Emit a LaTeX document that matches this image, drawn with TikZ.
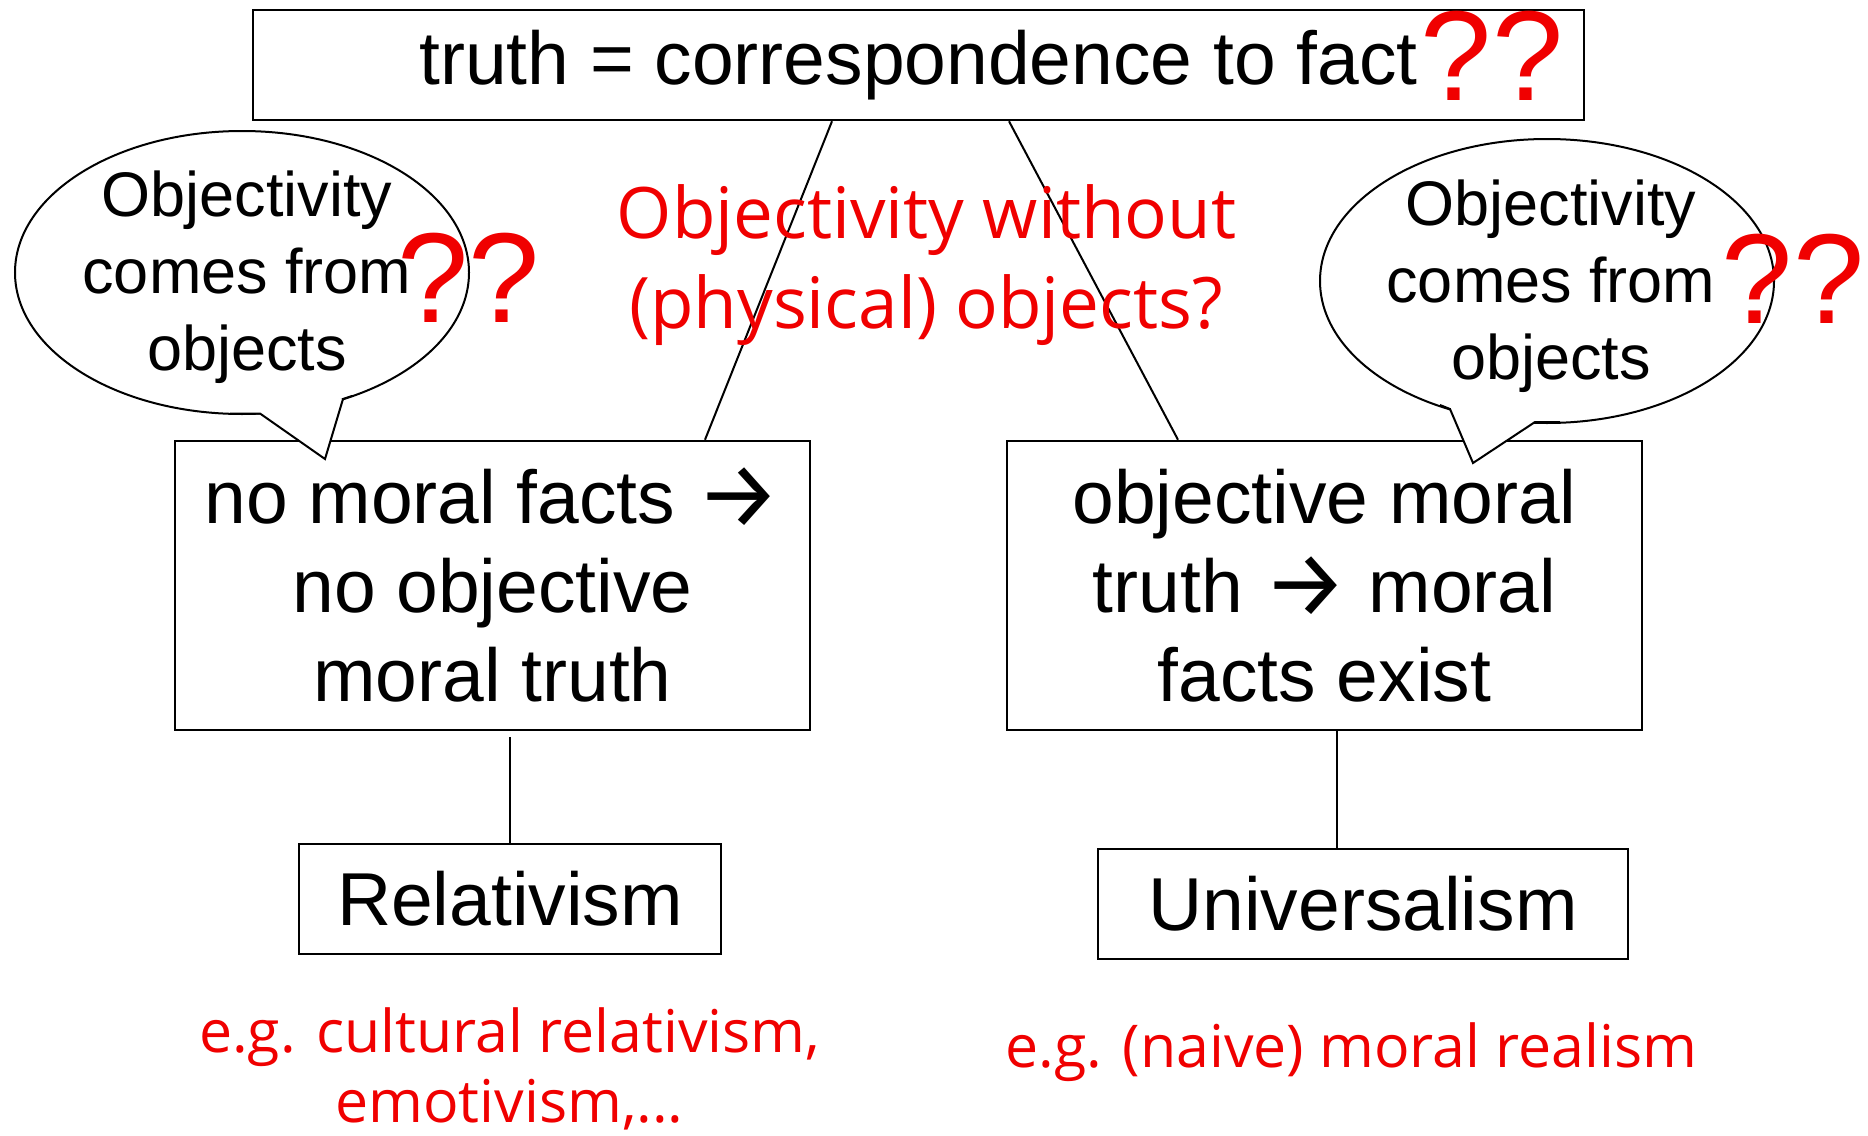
\documentclass[tikz,border=0pt]{standalone}
\usepackage{fontspec}
\setmainfont{Liberation Sans}
\newfontfamily\arrowfont{Fira Sans}
\newfontfamily\handfont{Open Sans}
\newcommand{\rarr}{\raisebox{-4pt}[0pt][0pt]{\scalebox{1.25}{\arrowfont →}}}
\definecolor{inkred}{RGB}{240,0,0}
\tikzset{
  box/.style={draw, line width=2.5pt, fill=white, inner sep=0pt, align=center,
    font=\fontsize{75}{89}\selectfont},
  conn/.style={draw, line width=2pt},
  bubbletext/.style={inner sep=0pt, align=center, font=\fontsize{63}{77}\selectfont},
  redtext/.style={text=inkred, inner sep=0pt, anchor=base,
    font=\handfont\fontsize{59}{59}\selectfont},
  redbig/.style={redtext, font=\handfont\fontsize{71}{71}\selectfont},
  qq/.style={text=inkred, inner sep=0pt, anchor=base,
    font=\fontsize{128}{128}\selectfont},
  bubbleline/.style={draw, line width=2pt, fill=white}
}
\begin{document}
\begin{tikzpicture}[x=1pt,y=-1pt]
\useasboundingbox[fill=white] (0,0) rectangle (1868,1135);

% boxes
\node[box, minimum width=1331pt, minimum height=110pt] (top) at (918.5,65) {truth = correspondence to fact};
\node[box, minimum width=635pt, minimum height=289pt] (lbox) at (492.5,585.5)
  {no moral facts \rarr\\no objective\\moral truth};
\node[box, minimum width=635pt, minimum height=289pt] (rbox) at (1324.5,585.5)
  {objective moral\\truth \rarr{} moral\\facts exist};
\node[box, minimum width=422pt, minimum height=110pt] (rel) at (510,899) {Relativism};
\node[box, minimum width=530pt, minimum height=110pt] (uni) at (1363,904) {Universalism};

% connectors
\draw[conn] ([xshift=-86.5]top.south) -- ([xshift=212.5]lbox.north);
\draw[conn] ([xshift=90.5]top.south) -- ([xshift=-146.5]rbox.north);
\draw[conn] (rel.north) -- ([yshift=-6]rel.north |- lbox.south);
\draw[conn] ([xshift=-26]uni.north) -- ([xshift=-26]uni.north |- rbox.south);

% left speech bubble
\draw[bubbleline] (242,272.5) ellipse [x radius=227, y radius=141.5];
\fill[white] (230,413) -- (260,413) -- (325,459) -- (343,399) -- (300,390) -- (235,405) -- cycle;
\draw[line width=2pt, line join=miter] (230,413.5) -- (260,413.5) -- (325,459) -- (343,399) -- (352,396);
\node[bubbletext] (lbub) at (247,277) {Objectivity\\comes from\\objects};

% right speech bubble
\draw[bubbleline] (1547,281) ellipse [x radius=227, y radius=142];
\fill[white] (1440,405) -- (1450,409) -- (1473,463) -- (1535,422) -- (1560,421) -- (1540,410) -- (1470,400) -- cycle;
\draw[line width=2pt, line join=miter] (1440,405) -- (1450,409) -- (1473,463) -- (1535,422) -- (1560,422);
\node[bubbletext] (rbub) at (1551,286) {Objectivity\\comes from\\objects};

% red annotations
\node[qq] (q1) at (1492,100) {??};
\node[qq] (q2) at (469,322) {??};
\node[qq] (q3) at (1793,323) {??};
\node[redbig] (r1) at (926.5,238) {Objectivity without};
\node[redbig] (r2) at (926,328) {(physical) objects?};
\node[redtext] (r3) at (509.5,1052) {e.g. cultural relativism,};
\node[redtext] (r4) at (509.5,1122) {emotivism,...};
\node[redtext] (r5) at (1351.5,1067) {e.g. (naive) moral realism};
\end{tikzpicture}
\end{document}
